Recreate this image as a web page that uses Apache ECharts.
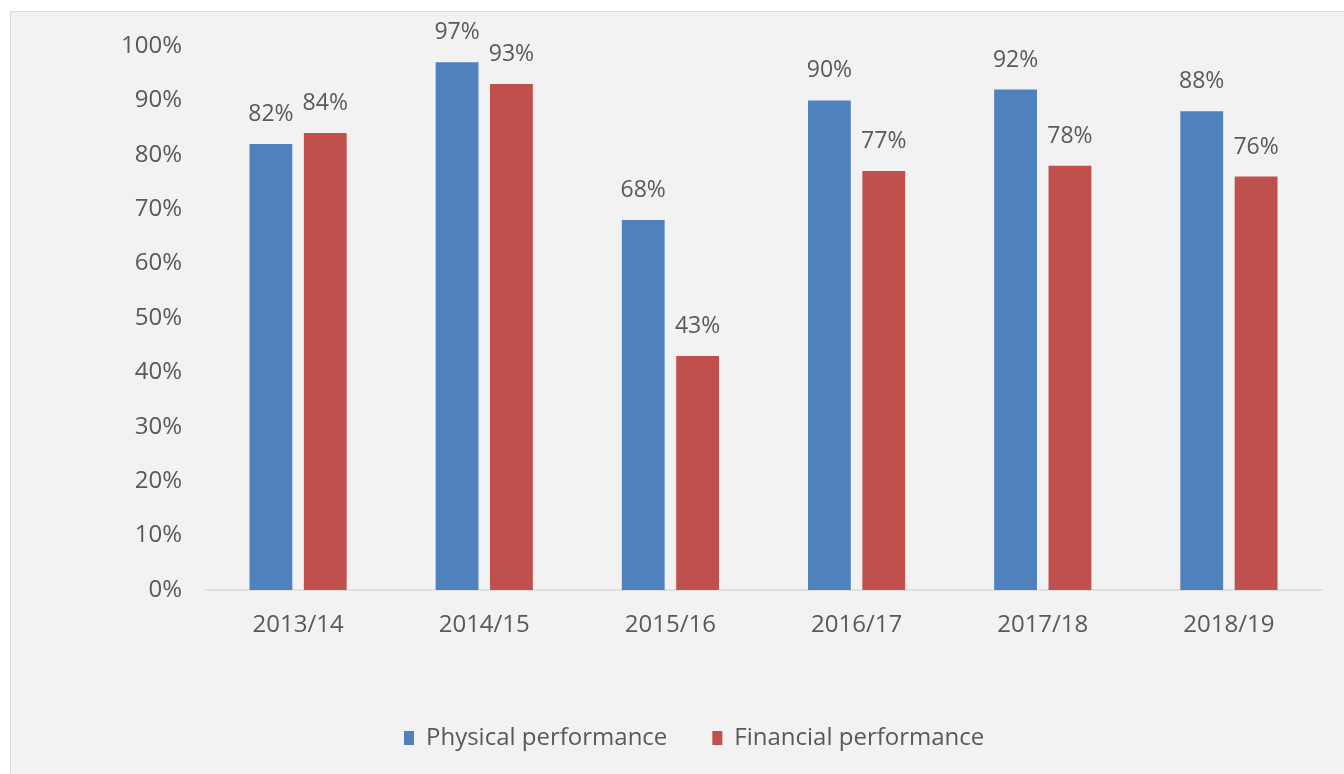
<!DOCTYPE html>
<html>
<head>
<meta charset="utf-8">
<title>Physical vs financial performance</title>
<script src="https://cdn.jsdelivr.net/npm/echarts@6/dist/echarts.min.js"></script>
<style>
  html, body { margin: 0; padding: 0; background: #fff; overflow: hidden; }
  #panel {
    position: absolute; left: 10px; top: 11px; width: 1340px; height: 770px;
    background: #f2f2f2; border: 1px solid #d9d9d9;
  }
  #main { position: absolute; left: 0; top: 0; width: 1344px; height: 774px; }
</style>
</head>
<body>
<div id="panel"></div>
<div id="main"></div>
<script>
// data
const years = ['2013/14', '2014/15', '2015/16', '2016/17', '2017/18', '2018/19'];
const physical = [82, 97, 68, 90, 92, 88];
const financial = [84, 93, 43, 77, 78, 76];
const seriesNames = ['Physical performance', 'Financial performance'];

const textColor = '#595959';
const font = 'Open Sans';

const myChart = echarts.init(document.getElementById('main'));

// shared label setup for both series
const barLabel = {
  show: true,
  position: 'top',
  distance: 18,
  color: textColor,
  fontFamily: font,
  fontSize: 23,
  formatter: p => p.value + '%'
};

myChart.setOption({
  backgroundColor: 'transparent',
  animation: false,
  textStyle: { fontFamily: font },
  grid: { left: 205, right: 22, top: 46, bottom: 184, containLabel: false },
  legend: {
    bottom: 19,
    left: 399,
    itemWidth: 10,
    itemHeight: 14,
    itemGap: 45,
    icon: 'rect',
    textStyle: { color: textColor, fontSize: 24, fontFamily: font, padding: [0, 0, 0, 7] },
    data: seriesNames
  },
  xAxis: {
    type: 'category',
    data: years,
    axisLine: { lineStyle: { color: '#d9d9d9', width: 1.5 } },
    axisTick: { show: false },
    axisLabel: { color: textColor, fontSize: 24, margin: 23 }
  },
  yAxis: {
    type: 'value',
    min: 0,
    max: 100,
    interval: 10,
    splitLine: { show: false },
    axisLine: { show: false },
    axisTick: { show: false },
    axisLabel: { color: textColor, fontSize: 24, margin: 23, formatter: '{value}%' }
  },
  series: [
    {
      name: seriesNames[0],
      type: 'bar',
      data: physical,
      barWidth: '23%',
      barGap: '27%',
      itemStyle: { color: '#4f81bd' },
      label: barLabel
    },
    {
      name: seriesNames[1],
      type: 'bar',
      data: financial,
      barWidth: '23%',
      itemStyle: { color: '#c0504d' },
      label: barLabel
    }
  ]
});
</script>
</body>
</html>
